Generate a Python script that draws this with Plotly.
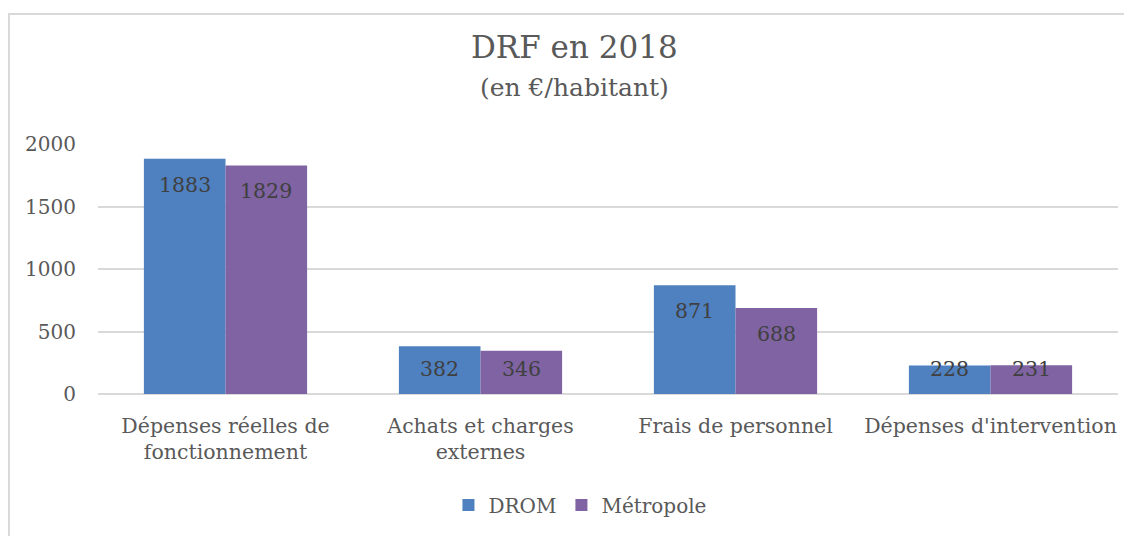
import plotly.graph_objects as go

categories = ["Dépenses réelles de<br>fonctionnement", "Achats et charges<br>externes",
              "Frais de personnel", "Dépenses d'intervention"]
drom = [1883, 382, 871, 228]
metropole = [1829, 346, 688, 231]
series_names = ["DROM", "Métropole"]
y_ticks = [0, 500, 1000, 1500, 2000]
y_max = 2000

FONT = "DejaVu Serif"
TXT = "#595959"
LBL = "#404040"
COLORS = ["#4f80c0", "#7f63a3"]

PLOT_H = 250  # plot area height in px
PX_PER_UNIT = PLOT_H / y_max
HALF_BAR_PX = 40.8

fig = go.Figure()
for name, vals, col in zip(series_names, [drom, metropole], COLORS):
    fig.add_trace(go.Bar(x=categories, y=vals, name=name,
                         marker=dict(color=col, line=dict(width=0)),
                         hoverinfo="x+y"))

# value labels, placed "inside end" like the original
annotations = []
for sgn, vals in zip([-1, 1], [drom, metropole]):
    for cat, v in zip(categories, vals):
        shift = -min(26, v * PX_PER_UNIT - 25)
        annotations.append(dict(x=cat, y=v, xref="x", yref="y", text=str(v),
                                showarrow=False, xshift=sgn * HALF_BAR_PX, yshift=shift,
                                yanchor="middle",
                                font=dict(family=FONT, size=20.5, color=LBL)))

annotations += [
    dict(text="DRF en 2018", xref="paper", yref="paper", x=0.4667, y=1.388,
         showarrow=False, font=dict(family=FONT, size=31, color=TXT), yanchor="middle"),
    dict(text="(en €/habitant)", xref="paper", yref="paper", x=0.4667, y=1.228,
         showarrow=False, font=dict(family=FONT, size=25, color=TXT), yanchor="middle"),
]

fig.update_layout(
    width=1124, height=528,
    margin=dict(l=90, r=14, t=136, b=142),
    paper_bgcolor="white", plot_bgcolor="white",
    barmode="group", bargap=0.36, bargroupgap=0,
    font=dict(family=FONT, color=TXT, size=20),
    showlegend=True,
    legend=dict(orientation="h", x=0.4725, xanchor="center", y=-0.444, yanchor="middle",
                font=dict(family=FONT, size=20, color=TXT), traceorder="normal"),
    xaxis=dict(showgrid=False, showline=False, ticks="", ticklabelstandoff=17,
               tickfont=dict(size=20.5, color=TXT), automargin=False),
    yaxis=dict(range=[0, y_max], tickvals=y_ticks, showgrid=True, gridcolor="#d9d9d9",
               gridwidth=1.5, zeroline=True, zerolinecolor="#d9d9d9", zerolinewidth=2,
               showline=False, ticks="", ticklabelstandoff=21, automargin=False,
               tickfont=dict(size=20, color=TXT)),
    shapes=[dict(type="rect", xref="paper", yref="paper", x0=-0.0873, x1=1.05,
                 y0=-0.7, y1=1.52, line=dict(color="#d9d9d9", width=2), layer="below")],
    annotations=annotations,
)

fig.write_html("out.html")
